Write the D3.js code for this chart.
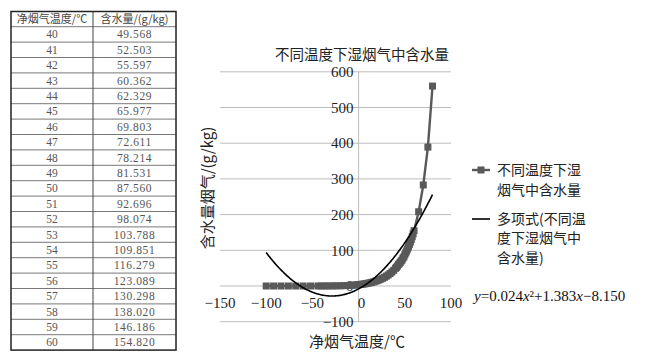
<!DOCTYPE html>
<html><head><meta charset="utf-8">
<script src="https://cdn.jsdelivr.net/npm/d3@7"></script>
<style>
html,body{margin:0;padding:0;background:#fff;}
svg{display:block;}
</style></head>
<body>
<svg id="c" width="647" height="361"></svg>
<script>
// ---- Data ----
const tableHeader = ["净烟气温度/℃", "含水量/(g/kg)"];
const tableTemps = [40,41,42,43,44,45,46,47,48,49,50,51,52,53,54,55,56,57,58,59,60];
const tableValues = ["49.568","52.503","55.597","60.362","62.329","65.977","69.803","72.611","78.214","81.531","87.560","92.696","98.074","103.788","109.851","116.279","123.089","130.298","138.020","146.186","154.820"];

// series temperatures (°C) and moisture content (g/kg)
const seriesTemps = [-100,-92,-84,-76,-68,-60,-52,-44,-40,-36,-32,-28,-24,-20,-16,-12,-8,-4,-2,
  0,2,4,6,8,10,12,14,16,18,20,22,24,26,28,30,32,34,36,38,
  40,41,42,43,44,45,46,47,48,49,50,51,52,53,54,55,56,57,58,59,60,
  65,70,75,80];
const seriesValues = [0.00,0.00,0.00,0.00,0.01,0.01,0.02,0.05,0.08,0.12,0.18,0.28,0.41,0.64,0.93,1.35,1.92,2.71,3.20,
  3.83,4.41,5.06,5.79,6.62,7.74,8.85,10.1,11.5,13.1,14.9,16.9,19.1,21.6,24.4,27.6,31.0,34.9,39.2,44.0,
  49.568,52.503,55.597,60.362,62.329,65.977,69.803,72.611,78.214,81.531,87.560,92.696,98.074,103.788,109.851,116.279,123.089,130.298,138.020,146.186,154.820,
  208,283,389,560];

// polynomial trendline coefficients as printed on the chart (a2, a1, a0)
const trendCoefficients = [0.024, 1.383, -8.150];
const trendDomain = [-100, 80];

const xTicks = [-150,-100,-50,0,50,100];
const yTicks = [-100,0,100,200,300,400,500,600];

const chartTitle = "不同温度下湿烟气中含水量";
const xTitle = "净烟气温度/℃";
const yTitle = "含水量烟气/(g/kg)";
const legendSeries = ["不同温度下湿", "烟气中含水量"];
const legendTrend = ["多项式(不同温", "度下湿烟气中", "含水量)"];

// ---- Drawing ----
const svg = d3.select("#c");
const serif = "'Liberation Serif','Times New Roman',serif";
const cjk = "'Noto Sans CJK SC','Noto Sans',sans-serif";

// Table
const tX0 = 11, tX1 = 93, tX2 = 176, tY0 = 11.5, headH = 15.2, rowH = 15.4;
const tg = svg.append("g");
const nRows = tableTemps.length;
const tY1 = tY0 + headH;
const tBottom = tY1 + nRows * rowH;
const rowY = d3.range(nRows + 1).map(i => tY1 + i * rowH);
tg.selectAll("line.row").data(rowY.slice(0, -1)).join("line")
  .attr("x1", tX0).attr("x2", tX2).attr("y1", d => d).attr("y2", d => d)
  .attr("stroke", "#555").attr("stroke-width", 0.8);
tg.append("line").attr("x1", tX1).attr("x2", tX1).attr("y1", tY0).attr("y2", tBottom)
  .attr("stroke", "#444").attr("stroke-width", 1);
tg.append("rect").attr("x", tX0).attr("y", tY0).attr("width", tX2 - tX0).attr("height", tBottom - tY0)
  .attr("fill", "none").attr("stroke", "#222").attr("stroke-width", 1.5);
tg.selectAll("text.h").data(tableHeader).join("text")
  .attr("x", (d, i) => i === 0 ? (tX0 + tX1) / 2 : (tX1 + tX2) / 2)
  .attr("y", tY0 + headH / 2).attr("dy", "0.35em").attr("text-anchor", "middle")
  .attr("font-family", cjk).attr("font-size", 11).attr("fill", "#444").text(d => d);
tg.selectAll("text.t").data(tableTemps).join("text")
  .attr("x", (tX0 + tX1) / 2).attr("y", (d, i) => tY1 + (i + 0.5) * rowH).attr("dy", "0.35em")
  .attr("text-anchor", "middle").attr("font-family", serif).attr("font-size", 11.5).attr("fill", "#555")
  .text(d => d);
tg.selectAll("text.v").data(tableValues).join("text")
  .attr("x", (tX1 + tX2) / 2).attr("y", (d, i) => tY1 + (i + 0.5) * rowH).attr("dy", "0.35em")
  .attr("text-anchor", "middle").attr("font-family", serif).attr("font-size", 11.5).attr("fill", "#555")
  .attr("letter-spacing", 0.6).text(d => d);

// Chart scales
const x = d3.scaleLinear().domain([-150, 100]).range([220, 451]);
const y = d3.scaleLinear().domain([-100, 600]).range([321.7, 71.8]);

// gridlines
svg.append("g").selectAll("line").data(yTicks).join("line")
  .attr("x1", x(-150)).attr("x2", x(100)).attr("y1", d => y(d)).attr("y2", d => y(d))
  .attr("stroke", "#bdbdbd").attr("stroke-width", 1);
// vertical axis line at x=0
svg.append("line").attr("x1", x(0)).attr("x2", x(0)).attr("y1", y(-100)).attr("y2", y(600))
  .attr("stroke", "#bdbdbd").attr("stroke-width", 1);

// y tick labels
svg.append("g").selectAll("text").data(yTicks).join("text")
  .attr("x", x(0) - 5).attr("y", d => y(d)).attr("dy", "0.35em").attr("text-anchor", "end")
  .attr("font-family", serif).attr("font-size", 15).attr("fill", "#222")
  .text(d => d < 0 ? "−" + Math.abs(d) : d);
// x tick labels
svg.append("g").selectAll("text").data(xTicks).join("text")
  .attr("x", d => x(d) + (d === 0 ? 3 : 0)).attr("y", 303).attr("dy", "0.35em").attr("text-anchor", "middle")
  .attr("font-family", serif).attr("font-size", 15).attr("fill", "#222")
  .text(d => d < 0 ? "−" + Math.abs(d) : d);

// series line + markers
const pts = seriesTemps.map((t, i) => [t, seriesValues[i]]);
const line = d3.line().x(d => x(d[0])).y(d => y(d[1]));
svg.append("path").attr("d", line(pts)).attr("fill", "none").attr("stroke", "#595959").attr("stroke-width", 2.4);
const ms = 7;
svg.append("g").selectAll("rect").data(pts).join("rect")
  .attr("x", d => x(d[0]) - ms / 2).attr("y", d => y(d[1]) - ms / 2)
  .attr("width", ms).attr("height", ms).attr("fill", "#595959");

// trendline from printed coefficients
const trendX = d3.range(trendDomain[0], trendDomain[1] + 0.001, 1);
const trendPts = trendX.map(t => [t, trendCoefficients[0] * t * t + trendCoefficients[1] * t + trendCoefficients[2]]);
svg.append("path").attr("d", d3.line().curve(d3.curveBasis).x(d => x(d[0])).y(d => y(d[1]))(trendPts))
  .attr("fill", "none").attr("stroke", "#000").attr("stroke-width", 1.6);

// titles
svg.append("text").attr("x", 362).attr("y", 55).attr("dy", "0.35em").attr("text-anchor", "middle")
  .attr("font-family", cjk).attr("font-size", 14.5).attr("fill", "#222").text(chartTitle);
svg.append("text").attr("x", 357).attr("y", 342).attr("dy", "0.35em").attr("text-anchor", "middle")
  .attr("font-family", cjk).attr("font-size", 15).attr("fill", "#222").text(xTitle);
svg.append("text").attr("transform", "translate(208,188) rotate(-90)").attr("dy", "0.35em")
  .attr("text-anchor", "middle").attr("font-family", cjk).attr("font-size", 15).attr("fill", "#222").text(yTitle);

// legend
const lg = svg.append("g");
lg.append("line").attr("x1", 472).attr("x2", 490).attr("y1", 170).attr("y2", 170)
  .attr("stroke", "#595959").attr("stroke-width", 2.4);
lg.append("rect").attr("x", 481 - 3.5).attr("y", 170 - 3.5).attr("width", 7).attr("height", 7).attr("fill", "#595959");
lg.selectAll("text.s").data(legendSeries).join("text")
  .attr("x", 497).attr("y", (d, i) => 170 + i * 20).attr("dy", "0.35em")
  .attr("font-family", cjk).attr("font-size", 14).attr("fill", "#222").text(d => d);
lg.append("line").attr("x1", 472).attr("x2", 490).attr("y1", 219).attr("y2", 219)
  .attr("stroke", "#000").attr("stroke-width", 1.6);
lg.selectAll("text.t").data(legendTrend).join("text")
  .attr("x", 497).attr("y", (d, i) => 219 + i * 19.5).attr("dy", "0.35em")
  .attr("font-family", cjk).attr("font-size", 14).attr("fill", "#222").text(d => d);

// equation
const eq = svg.append("text").attr("x", 474).attr("y", 296).attr("dy", "0.35em")
  .attr("font-family", serif).attr("font-size", 15).attr("fill", "#111");
eq.append("tspan").attr("font-style", "italic").text("y");
eq.append("tspan").text("=" + trendCoefficients[0].toFixed(3));
eq.append("tspan").attr("font-style", "italic").text("x");
eq.append("tspan").text("²+" + trendCoefficients[1].toFixed(3));
eq.append("tspan").attr("font-style", "italic").text("x");
eq.append("tspan").text("−" + Math.abs(trendCoefficients[2]).toFixed(3));
</script>
</body></html>
